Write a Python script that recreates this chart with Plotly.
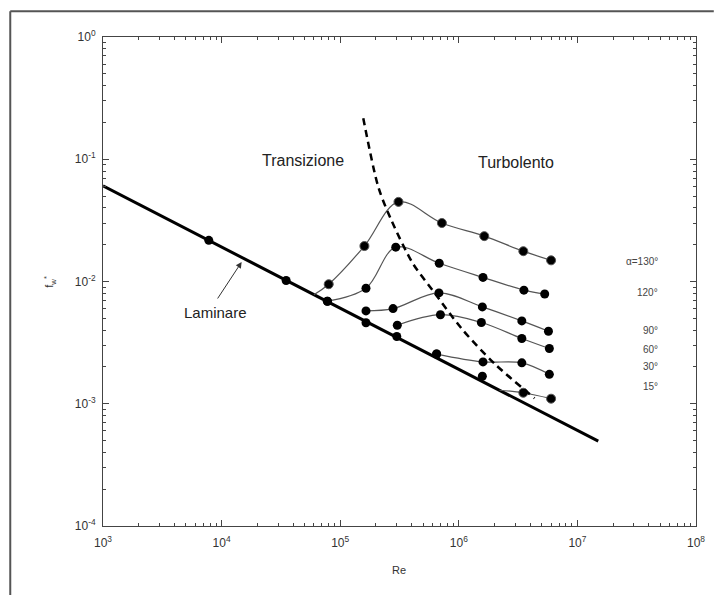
import plotly.graph_objects as go

# ---------------- data ----------------
re_lam_line = [1.0e3, 1.5e7]
f_lam_line = [0.0605, 4.94e-4]

re_lam_pts = [7.8e3, 3.5e4, 7.8e4, 1.65e5, 3.0e5, 6.5e5, 1.58e6]
f_lam_pts = [0.0217, 0.0102, 6.9e-3, 4.6e-3, 3.55e-3, 2.55e-3, 1.68e-3]

re_130 = [6.0e4, 8.0e4, 1.6e5, 3.1e5, 7.2e5, 1.64e6, 3.5e6, 6.0e6]
f_130 = [7.8e-3, 9.5e-3, 0.0195, 0.0448, 0.0301, 0.0235, 0.0177, 0.0149]
mk_130 = [0, 9, 9, 9, 9, 9, 9, 9]

re_120 = [7.8e4, 1.65e5, 2.94e5, 6.84e5, 1.6e6, 3.54e6, 5.3e6]
f_120 = [6.9e-3, 8.8e-3, 0.0191, 0.0141, 0.0108, 8.5e-3, 7.9e-3]

re_90 = [1.65e5, 2.79e5, 6.8e5, 1.58e6, 3.4e6, 5.7e6]
f_90 = [5.75e-3, 6.0e-3, 8.07e-3, 6.2e-3, 4.76e-3, 3.92e-3]

re_60 = [3.03e5, 7.0e5, 1.55e6, 3.4e6, 5.8e6]
f_60 = [4.39e-3, 5.35e-3, 4.62e-3, 3.42e-3, 2.83e-3]

re_30 = [6.5e5, 1.6e6, 3.4e6, 5.8e6]
f_30 = [2.55e-3, 2.2e-3, 2.16e-3, 1.74e-3]

re_15 = [2.2e6, 3.5e6, 6.0e6]
f_15 = [1.29e-3, 1.23e-3, 1.10e-3]
mk_15 = [0, 9, 9]

re_dash = [1.565e5, 2.095e5, 2.70e5, 4.10e5, 6.01e5, 1.067e6, 2.02e6, 4.35e6]
f_dash = [0.2164, 0.0594, 0.0317, 0.01403, 8.49e-3, 4.07e-3, 2.11e-3, 1.11e-3]

x_tickvals = [1e3, 1e4, 1e5, 1e6, 1e7, 1e8]
x_ticktext = ["10<sup>3</sup>", "10<sup>4</sup>", "10<sup>5</sup>", "10<sup>6</sup>",
              "10<sup>7</sup>", "10<sup>8</sup>"]
y_tickvals = [1e-4, 1e-3, 1e-2, 1e-1, 1e0]
y_ticktext = ["10<sup>-4</sup>", "10<sup>-3</sup>", "10<sup>-2</sup>", "10<sup>-1</sup>",
              "10<sup>0</sup>"]

angle_labels = ["α=130°", "120°", "90°", "60°", "30°", "15°"]
angle_label_y = [0.5399, 0.4785, 0.4002, 0.3607, 0.3117, 0.2693]

region_labels = ["Transizione", "Turbolento"]

# ---------------- figure ----------------
fig = go.Figure()

fig.add_trace(go.Scatter(x=re_lam_line, y=f_lam_line, mode="lines",
                         line=dict(color="black", width=3), showlegend=False))

curve_line = dict(color="#555555", width=1.2, shape="spline", smoothing=1.0)
for xs, ys, sz in [(re_130, f_130, mk_130), (re_120, f_120, 9), (re_90, f_90, 9),
                   (re_60, f_60, 9), (re_30, f_30, 9), (re_15, f_15, mk_15)]:
    fig.add_trace(go.Scatter(x=xs, y=ys, mode="lines+markers", line=curve_line,
                             marker=dict(color="black", size=sz, opacity=1),
                             showlegend=False))

fig.add_trace(go.Scatter(x=re_lam_pts, y=f_lam_pts, mode="markers",
                         marker=dict(color="black", size=9, opacity=1), showlegend=False))

fig.add_trace(go.Scatter(x=re_dash, y=f_dash, mode="lines",
                         line=dict(color="black", width=2.5, dash="7px,5px",
                                   shape="spline", smoothing=0.8),
                         showlegend=False))

axis_common = dict(
    type="log", showline=True, linecolor="#444",
    linewidth=1, mirror="allticks", ticks="inside", ticklen=6, tickcolor="#444",
    showgrid=False, zeroline=False,
    tickfont=dict(family="Liberation Sans, Arial, sans-serif", size=12, color="#333"),
    minor=dict(ticks="inside", ticklen=3, tickcolor="#444", dtick="D1", showgrid=False),
)

fig.update_xaxes(range=[3, 8], tickmode="array", tickvals=x_tickvals, ticktext=x_ticktext,
                 ticklabelstandoff=6, **axis_common)
fig.update_yaxes(range=[-4, 0], tickmode="array", tickvals=y_tickvals, ticktext=y_ticktext,
                 ticklabelstandoff=4, **axis_common)

font_main = "Liberation Sans, Arial, sans-serif"
ann = []
ann.append(dict(text=region_labels[0], x=0.2644, y=0.769, xref="paper", yref="paper",
                showarrow=False, font=dict(family=font_main, size=16, color="#222")))
ann.append(dict(text=region_labels[1], x=0.7647, y=0.7641, xref="paper", yref="paper",
                showarrow=False, font=dict(family=font_main, size=16, color="#222")))
ann.append(dict(text="Laminare", x=0.1327, y=0.4376, xref="paper", yref="paper",
                showarrow=False, font=dict(family=font_main, size=15, color="#222")))
ann.append(dict(text="", x=0.2338, y=0.5399, xref="paper", yref="paper",
                showarrow=True, ax=-25, ay=38, arrowhead=2, arrowsize=1.2,
                arrowwidth=1, arrowcolor="#333"))
for t, yy in zip(angle_labels, angle_label_y):
    ann.append(dict(text=t, x=0.9385, y=yy, xref="paper", yref="paper", xanchor="right",
                    showarrow=False, font=dict(family=font_main, size=10, color="#444")))
ann.append(dict(text="Re", x=0.4994, y=-0.107, xref="paper", yref="paper",
                showarrow=False, font=dict(family=font_main, size=11, color="#333")))
ann.append(dict(text="f<sub>w</sub><sup>*</sup>", x=-0.1076, y=0.5, xref="paper", yref="paper",
                textangle=-90, showarrow=False,
                font=dict(family=font_main, size=11, color="#333")))

shapes = [
    dict(type="line", xref="paper", yref="paper", x0=-0.1564, x1=-0.1564, y0=-0.16, y1=1.0525,
         line=dict(color="#555", width=2)),
    dict(type="line", xref="paper", yref="paper", x0=-0.1564, x1=1.03, y0=1.0525, y1=1.0525,
         line=dict(color="#555", width=2)),
]

fig.update_layout(
    width=717, height=595,
    margin=dict(l=103, r=13, t=37, b=69),
    plot_bgcolor="white", paper_bgcolor="white",
    annotations=ann, shapes=shapes, showlegend=False,
)

fig.write_html("out.html", config={"displayModeBar": False},
               post_script="document.body.style.margin='0px';document.body.style.overflow='hidden';")
